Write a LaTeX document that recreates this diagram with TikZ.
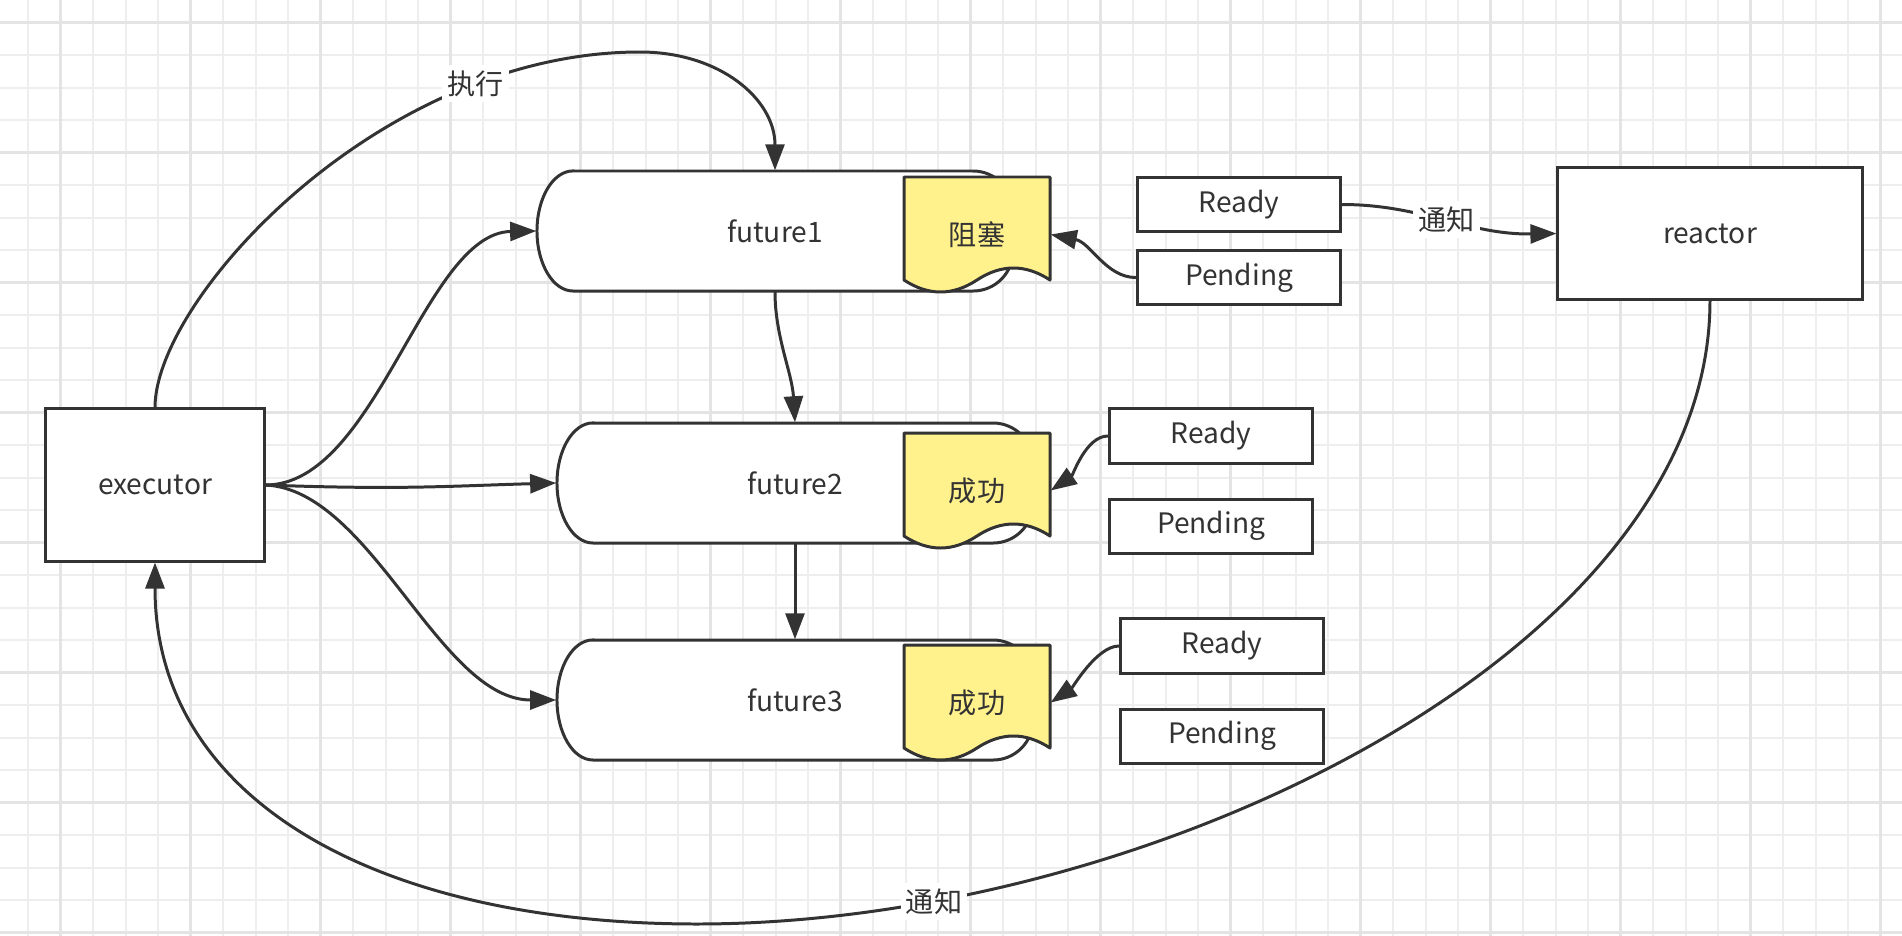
\documentclass[tikz,border=0pt]{standalone}
\usepackage{fontspec}
\setmainfont{Noto Sans CJK SC}
\usetikzlibrary{positioning, arrows.meta}
\definecolor{inkgray}{HTML}{333333}
\definecolor{notefill}{HTML}{FFF18C}
\definecolor{gridfaint}{HTML}{EEEEEE}
\definecolor{gridmain}{HTML}{E4E4E4}

\begin{document}
\begin{tikzpicture}[
    x=0.01cm, y=-0.01cm,
    every node/.style={font=\fontsize{8}{9.6}\selectfont, text=inkgray},
    box/.style={draw=inkgray, line width=0.85pt, fill=white, inner sep=0pt},
    statebox/.style={box, minimum width=2.03cm, minimum height=0.54cm},
    pillbody/.style={draw=inkgray, line width=0.85pt, fill=white},
    pillnode/.style={minimum width=4.76cm, minimum height=1.2cm, inner sep=0pt},
    notebody/.style={draw=inkgray, line width=0.85pt, fill=notefill, line join=round},
    notenode/.style={minimum width=1.46cm, minimum height=1.15cm, inner sep=0pt},
    wire/.style={draw=inkgray, line width=0.85pt, -{Triangle[length=0.26cm, width=0.19cm]}},
    tag/.style={fill=white, inner sep=1.5pt},
    gridfine/.style={draw=gridfaint, line width=0.5pt},
    gridbold/.style={draw=gridmain, line width=0.8pt}
]
    % Canvas and grid
    \fill[white] (0,0) rectangle (1902,936);
    \useasboundingbox (0,0) rectangle (1902,936);
    \foreach \i in {0,...,57} \draw[gridfine] ({28.2+32.5*\i},0) -- ++(0,936);
    \foreach \j in {0,...,28} \draw[gridfine] (0,{22.7+32.5*\j}) -- ++(1902,0);
    \foreach \i in {0,...,14} \draw[gridbold] ({60.7+130*\i},0) -- ++(0,936);
    \foreach \j in {0,...,7} \draw[gridbold] (0,{22.7+130*\j}) -- ++(1902,0);

    % Futures
    \filldraw[pillbody] (573,171) -- (973,171) arc[start angle=90, end angle=0, radius=0.4cm]
        -- (1013,251) arc[start angle=0, end angle=-90, radius=0.4cm]
        -- (573,291) arc[start angle=270, end angle=90, x radius=0.36cm, y radius=0.6cm] -- cycle;
    \node[pillnode] (f1) at (775,231) {future1};
    \filldraw[pillbody] (593,423) -- (993,423) arc[start angle=90, end angle=0, radius=0.4cm]
        -- (1033,503) arc[start angle=0, end angle=-90, radius=0.4cm]
        -- (593,543) arc[start angle=270, end angle=90, x radius=0.36cm, y radius=0.6cm] -- cycle;
    \node[pillnode] (f2) at (795,483) {future2};
    \filldraw[pillbody] (593,640) -- (993,640) arc[start angle=90, end angle=0, radius=0.4cm]
        -- (1033,720) arc[start angle=0, end angle=-90, radius=0.4cm]
        -- (593,760) arc[start angle=270, end angle=90, x radius=0.36cm, y radius=0.6cm] -- cycle;
    \node[pillnode] (f3) at (795,700) {future3};

    % State notes
    \filldraw[notebody] (904,177) -- (1050,177) -- (1050,280)
        .. controls +(-24.3,-16) and +(24.3,-16) .. (977,280)
        .. controls +(-24.3,16) and +(24.3,16) .. (904,280) -- cycle;
    \node[notenode] (n1) at (977,234.5) {阻塞};
    \filldraw[notebody] (904,433) -- (1050,433) -- (1050,536)
        .. controls +(-24.3,-16) and +(24.3,-16) .. (977,536)
        .. controls +(-24.3,16) and +(24.3,16) .. (904,536) -- cycle;
    \node[notenode] (n2) at (977,490.5) {成功};
    \filldraw[notebody] (904,645) -- (1050,645) -- (1050,748)
        .. controls +(-24.3,-16) and +(24.3,-16) .. (977,748)
        .. controls +(-24.3,16) and +(24.3,16) .. (904,748) -- cycle;
    \node[notenode] (n3) at (977,702.5) {成功};

    % Executor, reactor and poll results
    \node[box, minimum width=2.18cm, minimum height=1.52cm] (exec) at (155,485) {executor};
    \node[box, minimum width=3.04cm, minimum height=1.31cm] (reactor) at (1710,233.5) {reactor};
    \node[statebox] (ready1) at (1239,204.5) {Ready};
    \node[statebox, below=0.16cm of ready1] (pend1) {Pending};
    \node[statebox] (ready2) at (1211,436) {Ready};
    \node[statebox, below=0.33cm of ready2] (pend2) {Pending};
    \node[statebox] (ready3) at (1222,646) {Ready};
    \node[statebox, below=0.33cm of ready3] (pend3) {Pending};

    \coordinate (arctop) at (640,52);
    \coordinate (arcbot) at (697,924);

    % executor drives the futures
    \draw[wire] (exec.north) .. controls +(0,-109) and +(-260,0) .. (arctop) node[tag, pos=0.78] {执行}
        .. controls +(80,0) and +(0,-71) .. (f1.north);
    \draw[wire] (exec.east) .. controls +(111,0) and +(-112,2) .. (f1.west);
    \draw[wire] (exec.east) .. controls +(136,5) and +(-107,3) .. (f2.west);
    \draw[wire] (exec.east) .. controls +(106,5) and +(-117,0) .. (f3.west);
    \draw[wire] (f1.south) .. controls +(0,45) and +(-3,-50) .. (f2.north);
    \draw[wire] (f2.south) -- (f3.north);

    % poll results back to the notes
    \draw[wire] (pend1.west) .. controls +(-30,0) and +(40,8) .. (n1.east);
    \draw[wire] (ready2.west) .. controls +(-22,0) and +(22,-15) .. (n2.east);
    \draw[wire] (ready3.west) .. controls +(-22,0) and +(22,-15) .. (n3.east);

    % reactor notifications
    \draw[wire] (ready1.east) .. controls +(80,0) and +(-88,1.5) .. (reactor.west) node[tag, pos=0.5] {通知};
    \draw[wire] (reactor.south) .. controls +(0,351) and +(453,0) .. (arcbot) node[tag, pos=0.83] {通知}
        .. controls +(-317,0) and +(0,239) .. (exec.south);
\end{tikzpicture}
\end{document}
